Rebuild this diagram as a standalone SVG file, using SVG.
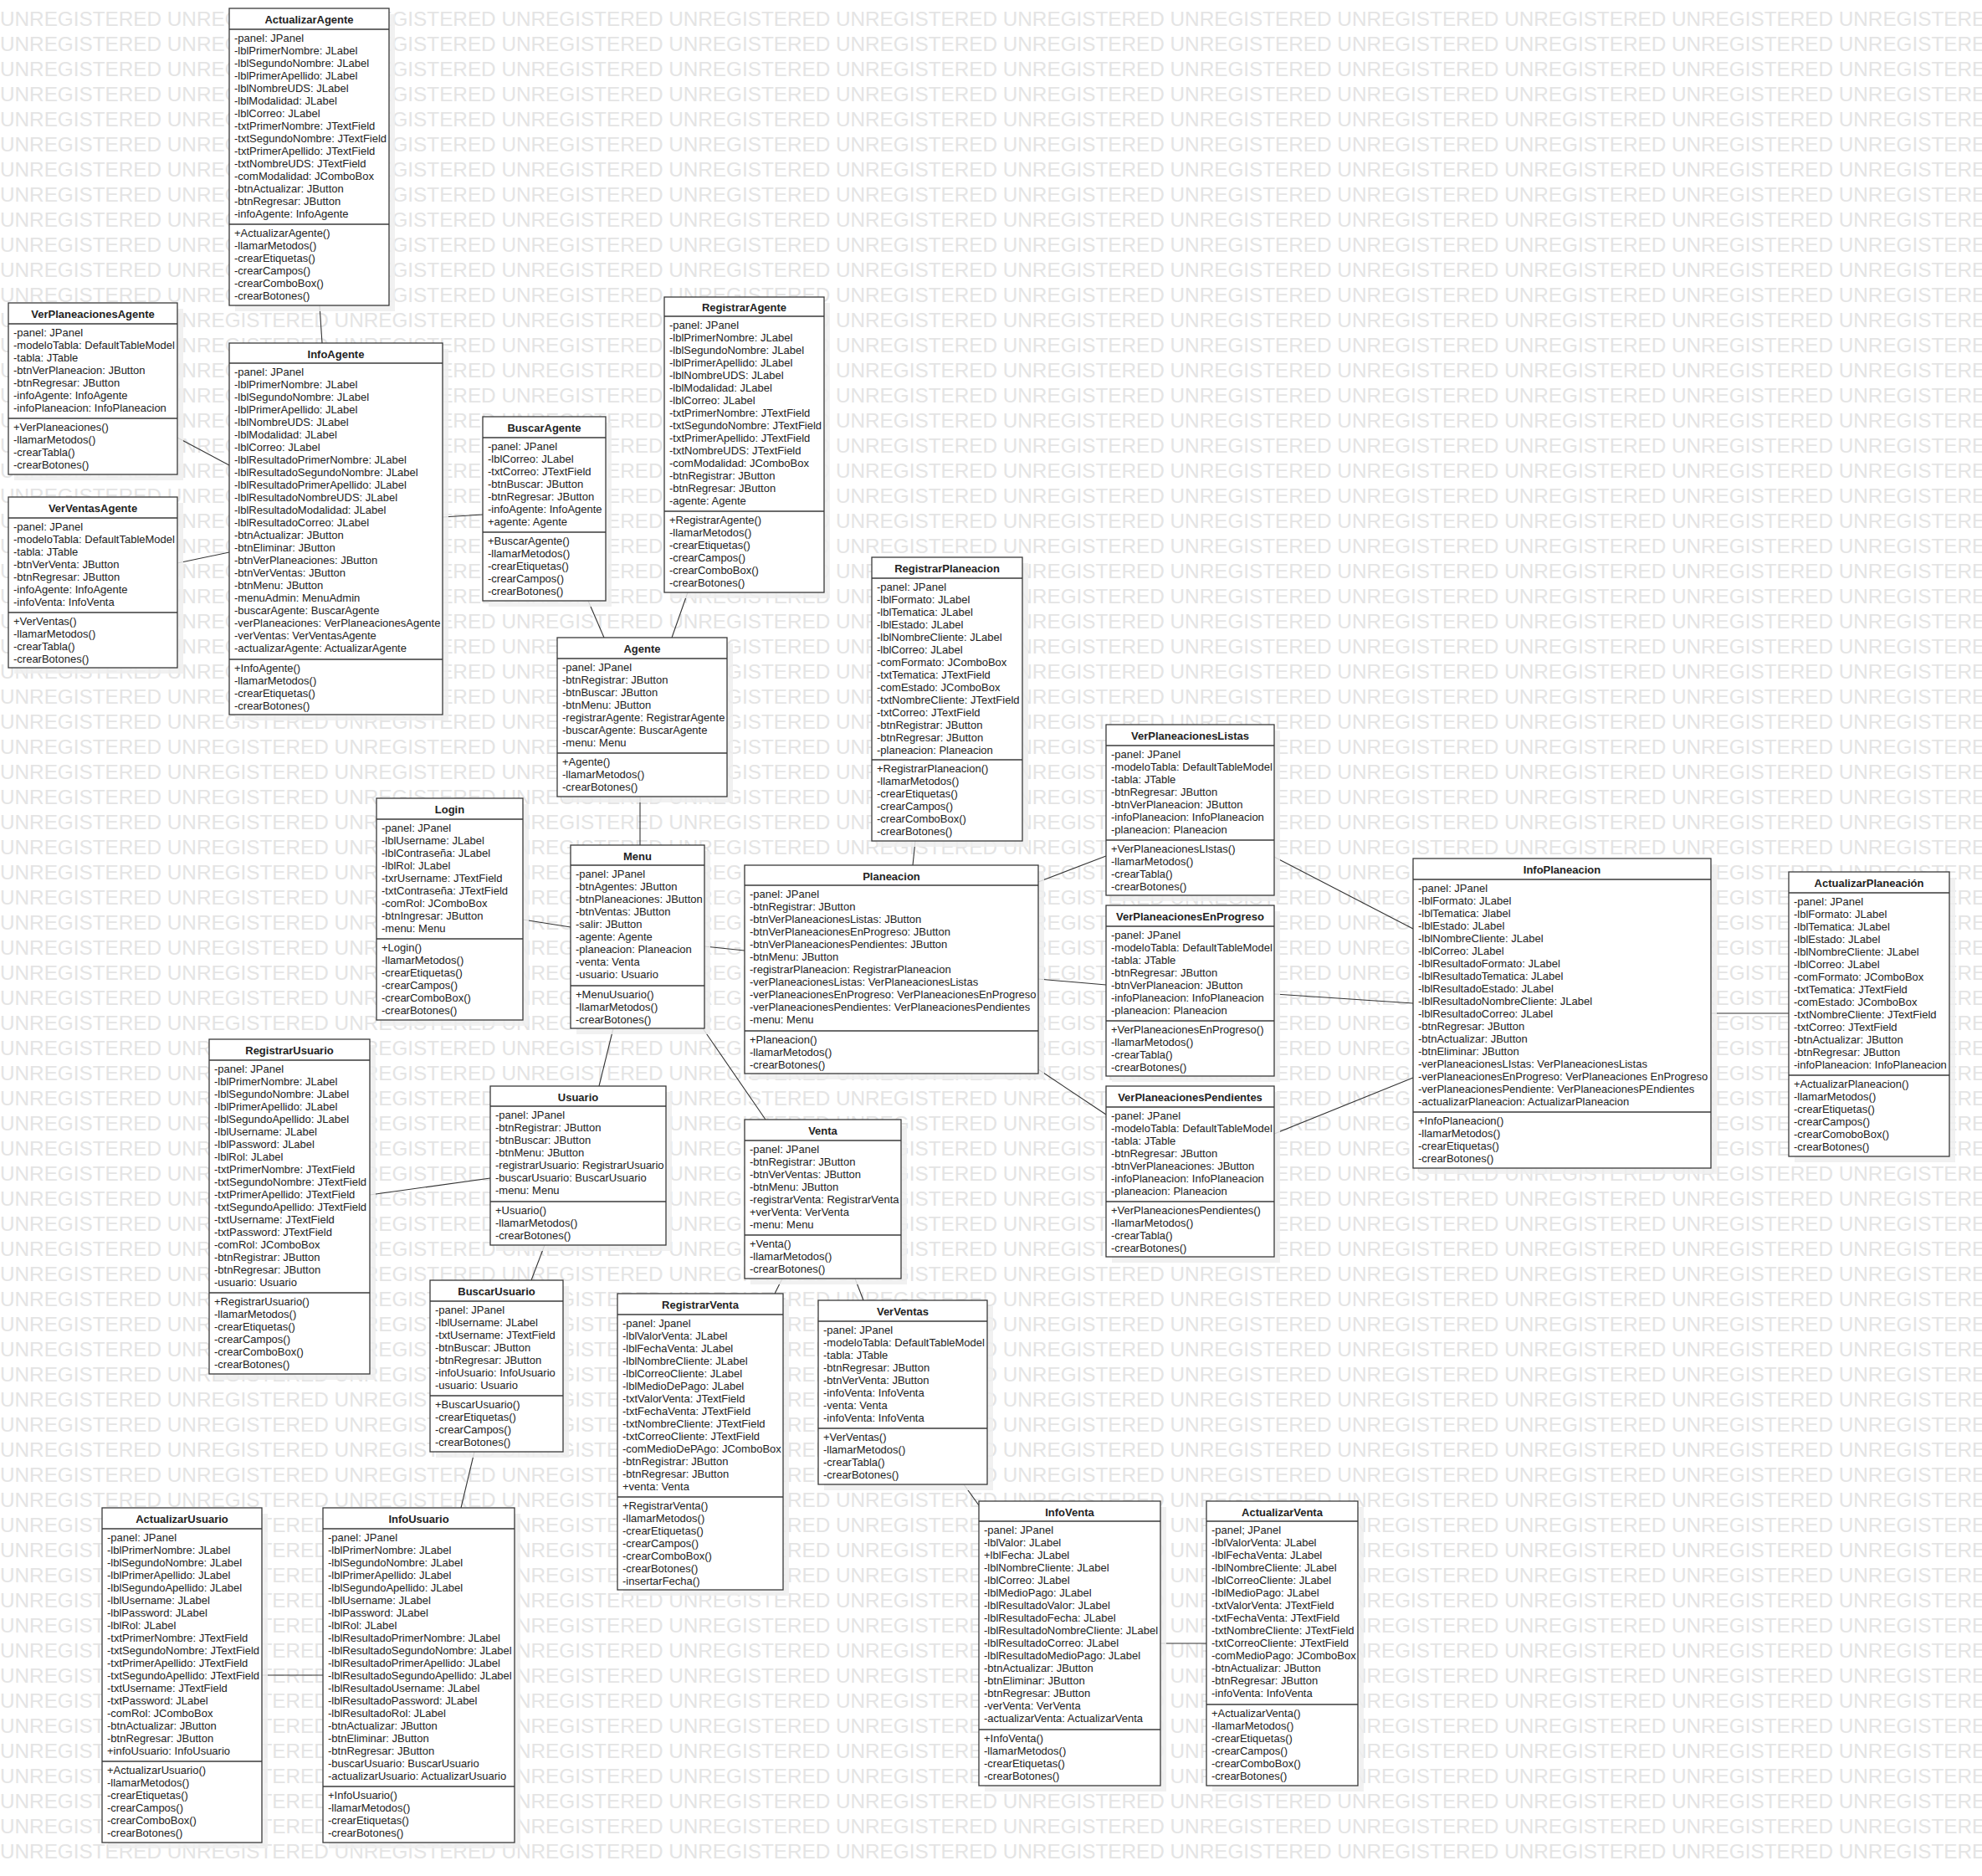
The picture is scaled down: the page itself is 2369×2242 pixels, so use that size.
<svg xmlns="http://www.w3.org/2000/svg" xmlns:xlink="http://www.w3.org/1999/xlink" width="2369" height="2242" viewBox="0 0 2369 2242">
<style>
.bg{fill:#ffffff}
.wm{font-family:"Liberation Sans",Arial,sans-serif;font-size:24.3px;fill:#e4e4e4}
.sh{fill:#efefef;opacity:0.85}
.b{fill:#ffffff;stroke:#3a3a3a;stroke-width:1.3}
.sep{stroke:#3a3a3a;stroke-width:1.3}
.t{font-family:"Liberation Sans",Arial,sans-serif;font-size:13px;font-weight:bold;fill:#222;text-anchor:middle}
.a{font-family:"Liberation Sans",Arial,sans-serif;font-size:13px;fill:#222}
.c line{stroke:#333;stroke-width:1.1}
</style>
<defs>
<text id="wmrow" class="wm" x="0" y="0">UNREGISTERED UNREGISTERED UNREGISTERED UNREGISTERED UNREGISTERED UNREGISTERED UNREGISTERED UNREGISTERED UNREGISTERED UNREGISTERED UNREGISTERED UNREGISTERED</text>
</defs>
<rect class="bg" x="0" y="0" width="2369" height="2242"/>
<!-- watermark rows -->
<g id="watermark">
<use xlink:href="#wmrow" y="30.5"/><use xlink:href="#wmrow" y="60.5"/><use xlink:href="#wmrow" y="90.5"/><use xlink:href="#wmrow" y="120.5"/><use xlink:href="#wmrow" y="150.5"/><use xlink:href="#wmrow" y="180.5"/><use xlink:href="#wmrow" y="210.5"/><use xlink:href="#wmrow" y="240.5"/><use xlink:href="#wmrow" y="270.5"/><use xlink:href="#wmrow" y="300.5"/>
<use xlink:href="#wmrow" y="330.5"/><use xlink:href="#wmrow" y="360.5"/><use xlink:href="#wmrow" y="390.5"/><use xlink:href="#wmrow" y="420.5"/><use xlink:href="#wmrow" y="450.5"/><use xlink:href="#wmrow" y="480.5"/><use xlink:href="#wmrow" y="510.5"/><use xlink:href="#wmrow" y="540.5"/><use xlink:href="#wmrow" y="570.5"/><use xlink:href="#wmrow" y="600.5"/>
<use xlink:href="#wmrow" y="630.5"/><use xlink:href="#wmrow" y="660.5"/><use xlink:href="#wmrow" y="690.5"/><use xlink:href="#wmrow" y="720.5"/><use xlink:href="#wmrow" y="750.5"/><use xlink:href="#wmrow" y="780.5"/><use xlink:href="#wmrow" y="810.5"/><use xlink:href="#wmrow" y="840.5"/><use xlink:href="#wmrow" y="870.5"/><use xlink:href="#wmrow" y="900.5"/>
<use xlink:href="#wmrow" y="930.5"/><use xlink:href="#wmrow" y="960.5"/><use xlink:href="#wmrow" y="990.5"/><use xlink:href="#wmrow" y="1020.5"/><use xlink:href="#wmrow" y="1050.5"/><use xlink:href="#wmrow" y="1080.5"/><use xlink:href="#wmrow" y="1110.5"/><use xlink:href="#wmrow" y="1140.5"/><use xlink:href="#wmrow" y="1170.5"/><use xlink:href="#wmrow" y="1200.5"/>
<use xlink:href="#wmrow" y="1230.5"/><use xlink:href="#wmrow" y="1260.5"/><use xlink:href="#wmrow" y="1290.5"/><use xlink:href="#wmrow" y="1320.5"/><use xlink:href="#wmrow" y="1350.5"/><use xlink:href="#wmrow" y="1380.5"/><use xlink:href="#wmrow" y="1410.5"/><use xlink:href="#wmrow" y="1440.5"/><use xlink:href="#wmrow" y="1470.5"/><use xlink:href="#wmrow" y="1500.5"/>
<use xlink:href="#wmrow" y="1530.5"/><use xlink:href="#wmrow" y="1560.5"/><use xlink:href="#wmrow" y="1590.5"/><use xlink:href="#wmrow" y="1620.5"/><use xlink:href="#wmrow" y="1650.5"/><use xlink:href="#wmrow" y="1680.5"/><use xlink:href="#wmrow" y="1710.5"/><use xlink:href="#wmrow" y="1740.5"/><use xlink:href="#wmrow" y="1770.5"/><use xlink:href="#wmrow" y="1800.5"/>
<use xlink:href="#wmrow" y="1830.5"/><use xlink:href="#wmrow" y="1860.5"/><use xlink:href="#wmrow" y="1890.5"/><use xlink:href="#wmrow" y="1920.5"/><use xlink:href="#wmrow" y="1950.5"/><use xlink:href="#wmrow" y="1980.5"/><use xlink:href="#wmrow" y="2010.5"/><use xlink:href="#wmrow" y="2040.5"/><use xlink:href="#wmrow" y="2070.5"/><use xlink:href="#wmrow" y="2100.5"/>
<use xlink:href="#wmrow" y="2130.5"/><use xlink:href="#wmrow" y="2160.5"/><use xlink:href="#wmrow" y="2190.5"/><use xlink:href="#wmrow" y="2220.5"/>
</g>

<!-- associations -->
<g id="connectors" class="c">
<line x1="382" y1="365" x2="385" y2="410"/>
<line x1="212" y1="523" x2="274" y2="556"/>
<line x1="212" y1="673" x2="274" y2="660"/>
<line x1="529" y1="618" x2="577" y2="615"/>
<line x1="703" y1="718" x2="722" y2="762"/>
<line x1="822" y1="708" x2="803" y2="762"/>
<line x1="765" y1="952" x2="765" y2="1010"/>
<line x1="625" y1="1099" x2="682" y2="1108"/>
<line x1="842" y1="1131" x2="890" y2="1136"/>
<line x1="1094" y1="1005" x2="1091" y2="1034"/>
<line x1="1241" y1="1054" x2="1322" y2="1023"/>
<line x1="1241" y1="1170" x2="1322" y2="1177"/>
<line x1="1241" y1="1278" x2="1322" y2="1332"/>
<line x1="1523" y1="1024" x2="1689" y2="1110"/>
<line x1="1523" y1="1188" x2="1689" y2="1199"/>
<line x1="1523" y1="1355" x2="1689" y2="1288"/>
<line x1="2045" y1="1211" x2="2138" y2="1211"/>
<line x1="733" y1="1229" x2="716" y2="1298"/>
<line x1="840" y1="1229" x2="915" y2="1338"/>
<line x1="442" y1="1428" x2="586" y2="1408"/>
<line x1="651" y1="1488" x2="635" y2="1530"/>
<line x1="567" y1="1735" x2="551" y2="1802"/>
<line x1="313" y1="2002" x2="386" y2="2002"/>
<line x1="935" y1="1528" x2="926" y2="1546"/>
<line x1="1022" y1="1528" x2="1032" y2="1554"/>
<line x1="1152" y1="1774" x2="1170" y2="1799"/>
<line x1="1387" y1="1964" x2="1442" y2="1964"/>
</g>

<g id="ActualizarAgente">
<rect class="sh" x="281" y="17" width="191" height="355"/>
<rect class="b" x="274" y="10" width="191" height="355"/>
<line class="sep" x1="274" y1="35" x2="465" y2="35"/><line class="sep" x1="274" y1="268" x2="465" y2="268"/>
<text class="t" x="369.5" y="27.5">ActualizarAgente</text>
<text class="a" x="280" y="49.5"><tspan x="280">-panel: JPanel</tspan><tspan x="280" dy="15">-lblPrimerNombre: JLabel</tspan><tspan x="280" dy="15">-lblSegundoNombre: JLabel</tspan><tspan x="280" dy="15">-lblPrimerApellido: JLabel</tspan><tspan x="280" dy="15">-lblNombreUDS: JLabel</tspan><tspan x="280" dy="15">-lblModalidad: JLabel</tspan><tspan x="280" dy="15">-lblCorreo: JLabel</tspan><tspan x="280" dy="15">-txtPrimerNombre: JTextField</tspan><tspan x="280" dy="15">-txtSegundoNombre: JTextField</tspan><tspan x="280" dy="15">-txtPrimerApellido: JTextField</tspan><tspan x="280" dy="15">-txtNombreUDS: JTextField</tspan><tspan x="280" dy="15">-comModalidad: JComboBox</tspan><tspan x="280" dy="15">-btnActualizar: JButton</tspan><tspan x="280" dy="15">-btnRegresar: JButton</tspan><tspan x="280" dy="15">-infoAgente: InfoAgente</tspan></text>
<text class="a" x="280" y="282.5"><tspan x="280">+ActualizarAgente()</tspan><tspan x="280" dy="15">-llamarMetodos()</tspan><tspan x="280" dy="15">-crearEtiquetas()</tspan><tspan x="280" dy="15">-crearCampos()</tspan><tspan x="280" dy="15">-crearComboBox()</tspan><tspan x="280" dy="15">-crearBotones()</tspan></text>
</g>

<g id="VerPlaneacionesAgente">
<rect class="sh" x="17" y="369" width="202" height="205"/>
<rect class="b" x="10" y="362" width="202" height="205"/>
<line class="sep" x1="10" y1="387" x2="212" y2="387"/><line class="sep" x1="10" y1="500" x2="212" y2="500"/>
<text class="t" x="111" y="379.5">VerPlaneacionesAgente</text>
<text class="a" x="16" y="401.5"><tspan x="16">-panel: JPanel</tspan><tspan x="16" dy="15">-modeloTabla: DefaultTableModel</tspan><tspan x="16" dy="15">-tabla: JTable</tspan><tspan x="16" dy="15">-btnVerPlaneacion: JButton</tspan><tspan x="16" dy="15">-btnRegresar: JButton</tspan><tspan x="16" dy="15">-infoAgente: InfoAgente</tspan><tspan x="16" dy="15">-infoPlaneacion: InfoPlaneacion</tspan></text>
<text class="a" x="16" y="514.5"><tspan x="16">+VerPlaneaciones()</tspan><tspan x="16" dy="15">-llamarMetodos()</tspan><tspan x="16" dy="15">-crearTabla()</tspan><tspan x="16" dy="15">-crearBotones()</tspan></text>
</g>

<g id="InfoAgente">
<rect class="sh" x="281" y="417" width="255" height="444"/>
<rect class="b" x="274" y="410" width="255" height="444"/>
<line class="sep" x1="274" y1="434" x2="529" y2="434"/><line class="sep" x1="274" y1="788" x2="529" y2="788"/>
<text class="t" x="401.5" y="427.5">InfoAgente</text>
<text class="a" x="280" y="448.5"><tspan x="280">-panel: JPanel</tspan><tspan x="280" dy="15">-lblPrimerNombre: JLabel</tspan><tspan x="280" dy="15">-lblSegundoNombre: JLabel</tspan><tspan x="280" dy="15">-lblPrimerApellido: JLabel</tspan><tspan x="280" dy="15">-lblNombreUDS: JLabel</tspan><tspan x="280" dy="15">-lblModalidad: JLabel</tspan><tspan x="280" dy="15">-lblCorreo: JLabel</tspan><tspan x="280" dy="15">-lblResultadoPrimerNombre: JLabel</tspan><tspan x="280" dy="15">-lblResultadoSegundoNombre: JLabel</tspan><tspan x="280" dy="15">-lblResultadoPrimerApellido: JLabel</tspan><tspan x="280" dy="15">-lblResultadoNombreUDS: JLabel</tspan><tspan x="280" dy="15">-lblResultadoModalidad: JLabel</tspan><tspan x="280" dy="15">-lblResultadoCorreo: JLabel</tspan><tspan x="280" dy="15">-btnActualizar: JButton</tspan><tspan x="280" dy="15">-btnEliminar: JButton</tspan><tspan x="280" dy="15">-btnVerPlaneaciones: JButton</tspan><tspan x="280" dy="15">-btnVerVentas: JButton</tspan><tspan x="280" dy="15">-btnMenu: JButton</tspan><tspan x="280" dy="15">-menuAdmin: MenuAdmin</tspan><tspan x="280" dy="15">-buscarAgente: BuscarAgente</tspan><tspan x="280" dy="15">-verPlaneaciones: VerPlaneacionesAgente</tspan><tspan x="280" dy="15">-verVentas: VerVentasAgente</tspan><tspan x="280" dy="15">-actualizarAgente: ActualizarAgente</tspan></text>
<text class="a" x="280" y="802.5"><tspan x="280">+InfoAgente()</tspan><tspan x="280" dy="15">-llamarMetodos()</tspan><tspan x="280" dy="15">-crearEtiquetas()</tspan><tspan x="280" dy="15">-crearBotones()</tspan></text>
</g>

<g id="VerVentasAgente">
<rect class="sh" x="17" y="601" width="202" height="204"/>
<rect class="b" x="10" y="594" width="202" height="204"/>
<line class="sep" x1="10" y1="619" x2="212" y2="619"/><line class="sep" x1="10" y1="732" x2="212" y2="732"/>
<text class="t" x="111" y="611.5">VerVentasAgente</text>
<text class="a" x="16" y="633.5"><tspan x="16">-panel: JPanel</tspan><tspan x="16" dy="15">-modeloTabla: DefaultTableModel</tspan><tspan x="16" dy="15">-tabla: JTable</tspan><tspan x="16" dy="15">-btnVerVenta: JButton</tspan><tspan x="16" dy="15">-btnRegresar: JButton</tspan><tspan x="16" dy="15">-infoAgente: InfoAgente</tspan><tspan x="16" dy="15">-infoVenta: InfoVenta</tspan></text>
<text class="a" x="16" y="746.5"><tspan x="16">+VerVentas()</tspan><tspan x="16" dy="15">-llamarMetodos()</tspan><tspan x="16" dy="15">-crearTabla()</tspan><tspan x="16" dy="15">-crearBotones()</tspan></text>
</g>

<g id="BuscarAgente">
<rect class="sh" x="584" y="505" width="147" height="220"/>
<rect class="b" x="577" y="498" width="147" height="220"/>
<line class="sep" x1="577" y1="523" x2="724" y2="523"/><line class="sep" x1="577" y1="636" x2="724" y2="636"/>
<text class="t" x="650.5" y="515.5">BuscarAgente</text>
<text class="a" x="583" y="537.5"><tspan x="583">-panel: JPanel</tspan><tspan x="583" dy="15">-lblCorreo: JLabel</tspan><tspan x="583" dy="15">-txtCorreo: JTextField</tspan><tspan x="583" dy="15">-btnBuscar: JButton</tspan><tspan x="583" dy="15">-btnRegresar: JButton</tspan><tspan x="583" dy="15">-infoAgente: InfoAgente</tspan><tspan x="583" dy="15">+agente: Agente</tspan></text>
<text class="a" x="583" y="650.5"><tspan x="583">+BuscarAgente()</tspan><tspan x="583" dy="15">-llamarMetodos()</tspan><tspan x="583" dy="15">-crearEtiquetas()</tspan><tspan x="583" dy="15">-crearCampos()</tspan><tspan x="583" dy="15">-crearBotones()</tspan></text>
</g>

<g id="RegistrarAgente">
<rect class="sh" x="801" y="362" width="191" height="353"/>
<rect class="b" x="794" y="355" width="191" height="353"/>
<line class="sep" x1="794" y1="378" x2="985" y2="378"/><line class="sep" x1="794" y1="611" x2="985" y2="611"/>
<text class="t" x="889.5" y="371.5">RegistrarAgente</text>
<text class="a" x="800" y="392.5"><tspan x="800">-panel: JPanel</tspan><tspan x="800" dy="15">-lblPrimerNombre: JLabel</tspan><tspan x="800" dy="15">-lblSegundoNombre: JLabel</tspan><tspan x="800" dy="15">-lblPrimerApellido: JLabel</tspan><tspan x="800" dy="15">-lblNombreUDS: JLabel</tspan><tspan x="800" dy="15">-lblModalidad: JLabel</tspan><tspan x="800" dy="15">-lblCorreo: JLabel</tspan><tspan x="800" dy="15">-txtPrimerNombre: JTextField</tspan><tspan x="800" dy="15">-txtSegundoNombre: JTextField</tspan><tspan x="800" dy="15">-txtPrimerApellido: JTextField</tspan><tspan x="800" dy="15">-txtNombreUDS: JTextField</tspan><tspan x="800" dy="15">-comModalidad: JComboBox</tspan><tspan x="800" dy="15">-btnRegistrar: JButton</tspan><tspan x="800" dy="15">-btnRegresar: JButton</tspan><tspan x="800" dy="15">-agente: Agente</tspan></text>
<text class="a" x="800" y="625.5"><tspan x="800">+RegistrarAgente()</tspan><tspan x="800" dy="15">-llamarMetodos()</tspan><tspan x="800" dy="15">-crearEtiquetas()</tspan><tspan x="800" dy="15">-crearCampos()</tspan><tspan x="800" dy="15">-crearComboBox()</tspan><tspan x="800" dy="15">-crearBotones()</tspan></text>
</g>

<g id="Agente">
<rect class="sh" x="673" y="769" width="203" height="190"/>
<rect class="b" x="666" y="762" width="203" height="190"/>
<line class="sep" x1="666" y1="787" x2="869" y2="787"/><line class="sep" x1="666" y1="900" x2="869" y2="900"/>
<text class="t" x="767.5" y="779.5">Agente</text>
<text class="a" x="672" y="801.5"><tspan x="672">-panel: JPanel</tspan><tspan x="672" dy="15">-btnRegistrar: JButton</tspan><tspan x="672" dy="15">-btnBuscar: JButton</tspan><tspan x="672" dy="15">-btnMenu: JButton</tspan><tspan x="672" dy="15">-registrarAgente: RegistrarAgente</tspan><tspan x="672" dy="15">-buscarAgente: BuscarAgente</tspan><tspan x="672" dy="15">-menu: Menu</tspan></text>
<text class="a" x="672" y="914.5"><tspan x="672">+Agente()</tspan><tspan x="672" dy="15">-llamarMetodos()</tspan><tspan x="672" dy="15">-crearBotones()</tspan></text>
</g>

<g id="RegistrarPlaneacion">
<rect class="sh" x="1049" y="673" width="180" height="339"/>
<rect class="b" x="1042" y="666" width="180" height="339"/>
<line class="sep" x1="1042" y1="691" x2="1222" y2="691"/><line class="sep" x1="1042" y1="908" x2="1222" y2="908"/>
<text class="t" x="1132" y="683.5">RegistrarPlaneacion</text>
<text class="a" x="1048" y="705.5"><tspan x="1048">-panel: JPanel</tspan><tspan x="1048" dy="15">-lblFormato: JLabel</tspan><tspan x="1048" dy="15">-lblTematica: JLabel</tspan><tspan x="1048" dy="15">-lblEstado: JLabel</tspan><tspan x="1048" dy="15">-lblNombreCliente: JLabel</tspan><tspan x="1048" dy="15">-lblCorreo: JLabel</tspan><tspan x="1048" dy="15">-comFormato: JComboBox</tspan><tspan x="1048" dy="15">-txtTematica: JTextField</tspan><tspan x="1048" dy="15">-comEstado: JComboBox</tspan><tspan x="1048" dy="15">-txtNombreCliente: JTextField</tspan><tspan x="1048" dy="15">-txtCorreo: JTextField</tspan><tspan x="1048" dy="15">-btnRegistrar: JButton</tspan><tspan x="1048" dy="15">-btnRegresar: JButton</tspan><tspan x="1048" dy="15">-planeacion: Planeacion</tspan></text>
<text class="a" x="1048" y="922.5"><tspan x="1048">+RegistrarPlaneacion()</tspan><tspan x="1048" dy="15">-llamarMetodos()</tspan><tspan x="1048" dy="15">-crearEtiquetas()</tspan><tspan x="1048" dy="15">-crearCampos()</tspan><tspan x="1048" dy="15">-crearComboBox()</tspan><tspan x="1048" dy="15">-crearBotones()</tspan></text>
</g>

<g id="Login">
<rect class="sh" x="457" y="961" width="175" height="265"/>
<rect class="b" x="450" y="954" width="175" height="265"/>
<line class="sep" x1="450" y1="979" x2="625" y2="979"/><line class="sep" x1="450" y1="1122" x2="625" y2="1122"/>
<text class="t" x="537.5" y="971.5">Login</text>
<text class="a" x="456" y="993.5"><tspan x="456">-panel: JPanel</tspan><tspan x="456" dy="15">-lblUsername: JLabel</tspan><tspan x="456" dy="15">-lblContraseña: JLabel</tspan><tspan x="456" dy="15">-lblRol: JLabel</tspan><tspan x="456" dy="15">-txrUsername: JTextField</tspan><tspan x="456" dy="15">-txtContraseña: JTextField</tspan><tspan x="456" dy="15">-comRol: JComboBox</tspan><tspan x="456" dy="15">-btnIngresar: JButton</tspan><tspan x="456" dy="15">-menu: Menu</tspan></text>
<text class="a" x="456" y="1136.5"><tspan x="456">+Login()</tspan><tspan x="456" dy="15">-llamarMetodos()</tspan><tspan x="456" dy="15">-crearEtiquetas()</tspan><tspan x="456" dy="15">-crearCampos()</tspan><tspan x="456" dy="15">-crearComboBox()</tspan><tspan x="456" dy="15">-crearBotones()</tspan></text>
</g>

<g id="Menu">
<rect class="sh" x="689" y="1017" width="160" height="219"/>
<rect class="b" x="682" y="1010" width="160" height="219"/>
<line class="sep" x1="682" y1="1034" x2="842" y2="1034"/><line class="sep" x1="682" y1="1178" x2="842" y2="1178"/>
<text class="t" x="762" y="1027.5">Menu</text>
<text class="a" x="688" y="1048.5"><tspan x="688">-panel: JPanel</tspan><tspan x="688" dy="15">-btnAgentes: JButton</tspan><tspan x="688" dy="15">-btnPlaneaciones: JButton</tspan><tspan x="688" dy="15">-btnVentas: JButton</tspan><tspan x="688" dy="15">-salir: JButton</tspan><tspan x="688" dy="15">-agente: Agente</tspan><tspan x="688" dy="15">-planeacion: Planeacion</tspan><tspan x="688" dy="15">-venta: Venta</tspan><tspan x="688" dy="15">-usuario: Usuario</tspan></text>
<text class="a" x="688" y="1192.5"><tspan x="688">+MenuUsuario()</tspan><tspan x="688" dy="15">-llamarMetodos()</tspan><tspan x="688" dy="15">-crearBotones()</tspan></text>
</g>

<g id="Planeacion">
<rect class="sh" x="897" y="1041" width="351" height="249"/>
<rect class="b" x="890" y="1034" width="351" height="249"/>
<line class="sep" x1="890" y1="1058" x2="1241" y2="1058"/><line class="sep" x1="890" y1="1232" x2="1241" y2="1232"/>
<text class="t" x="1065.5" y="1051.5">Planeacion</text>
<text class="a" x="896" y="1072.5"><tspan x="896">-panel: JPanel</tspan><tspan x="896" dy="15">-btnRegistrar: JButton</tspan><tspan x="896" dy="15">-btnVerPlaneacionesListas: JButton</tspan><tspan x="896" dy="15">-btnVerPlaneacionesEnProgreso: JButton</tspan><tspan x="896" dy="15">-btnVerPlaneacionesPendientes: JButton</tspan><tspan x="896" dy="15">-btnMenu: JButton</tspan><tspan x="896" dy="15">-registrarPlaneacion: RegistrarPlaneacion</tspan><tspan x="896" dy="15">-verPlaneacionesListas: VerPlaneacionesListas</tspan><tspan x="896" dy="15">-verPlaneacionesEnProgreso: VerPlaneacionesEnProgreso</tspan><tspan x="896" dy="15">-verPlaneacionesPendientes: VerPlaneacionesPendientes</tspan><tspan x="896" dy="15">-menu: Menu</tspan></text>
<text class="a" x="896" y="1246.5"><tspan x="896">+Planeacion()</tspan><tspan x="896" dy="15">-llamarMetodos()</tspan><tspan x="896" dy="15">-crearBotones()</tspan></text>
</g>

<g id="VerPlaneacionesListas">
<rect class="sh" x="1329" y="873" width="201" height="204"/>
<rect class="b" x="1322" y="866" width="201" height="204"/>
<line class="sep" x1="1322" y1="891" x2="1523" y2="891"/><line class="sep" x1="1322" y1="1004" x2="1523" y2="1004"/>
<text class="t" x="1422.5" y="883.5">VerPlaneacionesListas</text>
<text class="a" x="1328" y="905.5"><tspan x="1328">-panel: JPanel</tspan><tspan x="1328" dy="15">-modeloTabla: DefaultTableModel</tspan><tspan x="1328" dy="15">-tabla: JTable</tspan><tspan x="1328" dy="15">-btnRegresar: JButton</tspan><tspan x="1328" dy="15">-btnVerPlaneacion: JButton</tspan><tspan x="1328" dy="15">-infoPlaneacion: InfoPlaneacion</tspan><tspan x="1328" dy="15">-planeacion: Planeacion</tspan></text>
<text class="a" x="1328" y="1018.5"><tspan x="1328">+VerPlaneacionesLIstas()</tspan><tspan x="1328" dy="15">-llamarMetodos()</tspan><tspan x="1328" dy="15">-crearTabla()</tspan><tspan x="1328" dy="15">-crearBotones()</tspan></text>
</g>

<g id="VerPlaneacionesEnProgreso">
<rect class="sh" x="1329" y="1089" width="201" height="204"/>
<rect class="b" x="1322" y="1082" width="201" height="204"/>
<line class="sep" x1="1322" y1="1107" x2="1523" y2="1107"/><line class="sep" x1="1322" y1="1220" x2="1523" y2="1220"/>
<text class="t" x="1422.5" y="1099.5">VerPlaneacionesEnProgreso</text>
<text class="a" x="1328" y="1121.5"><tspan x="1328">-panel: JPanel</tspan><tspan x="1328" dy="15">-modeloTabla: DefaultTableModel</tspan><tspan x="1328" dy="15">-tabla: JTable</tspan><tspan x="1328" dy="15">-btnRegresar: JButton</tspan><tspan x="1328" dy="15">-btnVerPlaneacion: JButton</tspan><tspan x="1328" dy="15">-infoPlaneacion: InfoPlaneacion</tspan><tspan x="1328" dy="15">-planeacion: Planeacion</tspan></text>
<text class="a" x="1328" y="1234.5"><tspan x="1328">+VerPlaneacionesEnProgreso()</tspan><tspan x="1328" dy="15">-llamarMetodos()</tspan><tspan x="1328" dy="15">-crearTabla()</tspan><tspan x="1328" dy="15">-crearBotones()</tspan></text>
</g>

<g id="VerPlaneacionesPendientes">
<rect class="sh" x="1329" y="1305" width="201" height="204"/>
<rect class="b" x="1322" y="1298" width="201" height="204"/>
<line class="sep" x1="1322" y1="1323" x2="1523" y2="1323"/><line class="sep" x1="1322" y1="1436" x2="1523" y2="1436"/>
<text class="t" x="1422.5" y="1315.5">VerPlaneacionesPendientes</text>
<text class="a" x="1328" y="1337.5"><tspan x="1328">-panel: JPanel</tspan><tspan x="1328" dy="15">-modeloTabla: DefaultTableModel</tspan><tspan x="1328" dy="15">-tabla: JTable</tspan><tspan x="1328" dy="15">-btnRegresar: JButton</tspan><tspan x="1328" dy="15">-btnVerPlaneaciones: JButton</tspan><tspan x="1328" dy="15">-infoPlaneacion: InfoPlaneacion</tspan><tspan x="1328" dy="15">-planeacion: Planeacion</tspan></text>
<text class="a" x="1328" y="1450.5"><tspan x="1328">+VerPlaneacionesPendientes()</tspan><tspan x="1328" dy="15">-llamarMetodos()</tspan><tspan x="1328" dy="15">-crearTabla()</tspan><tspan x="1328" dy="15">-crearBotones()</tspan></text>
</g>

<g id="InfoPlaneacion">
<rect class="sh" x="1696" y="1033" width="356" height="370"/>
<rect class="b" x="1689" y="1026" width="356" height="370"/>
<line class="sep" x1="1689" y1="1051" x2="2045" y2="1051"/><line class="sep" x1="1689" y1="1329" x2="2045" y2="1329"/>
<text class="t" x="1867" y="1043.5">InfoPlaneacion</text>
<text class="a" x="1695" y="1065.5"><tspan x="1695">-panel: JPanel</tspan><tspan x="1695" dy="15">-lblFormato: JLabel</tspan><tspan x="1695" dy="15">-lblTematica: Jlabel</tspan><tspan x="1695" dy="15">-lblEstado: JLabel</tspan><tspan x="1695" dy="15">-lblNombreCliente: JLabel</tspan><tspan x="1695" dy="15">-lblCorreo: JLabel</tspan><tspan x="1695" dy="15">-lblResultadoFormato: JLabel</tspan><tspan x="1695" dy="15">-lblResultadoTematica: JLabel</tspan><tspan x="1695" dy="15">-lblResultadoEstado: JLabel</tspan><tspan x="1695" dy="15">-lblResultadoNombreCliente: JLabel</tspan><tspan x="1695" dy="15">-lblResultadoCorreo: JLabel</tspan><tspan x="1695" dy="15">-btnRegresar: JButton</tspan><tspan x="1695" dy="15">-btnActualizar: JButton</tspan><tspan x="1695" dy="15">-btnEliminar: JButton</tspan><tspan x="1695" dy="15">-verPlaneacionesLIstas: VerPlaneacionesListas</tspan><tspan x="1695" dy="15">-verPlaneacionesEnProgreso: VerPlaneaciones EnProgreso</tspan><tspan x="1695" dy="15">-verPlaneacionesPendiente: VerPlaneacionesPEndientes</tspan><tspan x="1695" dy="15">-actualizarPlaneacion: ActualizarPlaneacion</tspan></text>
<text class="a" x="1695" y="1343.5"><tspan x="1695">+InfoPlaneacion()</tspan><tspan x="1695" dy="15">-llamarMetodos()</tspan><tspan x="1695" dy="15">-crearEtiquetas()</tspan><tspan x="1695" dy="15">-crearBotones()</tspan></text>
</g>

<g id="ActualizarPlaneacion">
<rect class="sh" x="2145" y="1049" width="192" height="340"/>
<rect class="b" x="2138" y="1042" width="192" height="340"/>
<line class="sep" x1="2138" y1="1067" x2="2330" y2="1067"/><line class="sep" x1="2138" y1="1285" x2="2330" y2="1285"/>
<text class="t" x="2234" y="1059.5">ActualizarPlaneación</text>
<text class="a" x="2144" y="1081.5"><tspan x="2144">-panel: JPanel</tspan><tspan x="2144" dy="15">-lblFormato: JLabel</tspan><tspan x="2144" dy="15">-lblTematica: JLabel</tspan><tspan x="2144" dy="15">-lblEstado: JLabel</tspan><tspan x="2144" dy="15">-lblNombreCliente: JLabel</tspan><tspan x="2144" dy="15">-lblCorreo: JLabel</tspan><tspan x="2144" dy="15">-comFormato: JComboBox</tspan><tspan x="2144" dy="15">-txtTematica: JTextField</tspan><tspan x="2144" dy="15">-comEstado: JComboBox</tspan><tspan x="2144" dy="15">-txtNombreCliente: JTextField</tspan><tspan x="2144" dy="15">-txtCorreo: JTextField</tspan><tspan x="2144" dy="15">-btnActualizar: JButton</tspan><tspan x="2144" dy="15">-btnRegresar: JButton</tspan><tspan x="2144" dy="15">-infoPlaneacion: InfoPlaneacion</tspan></text>
<text class="a" x="2144" y="1299.5"><tspan x="2144">+ActualizarPlaneacion()</tspan><tspan x="2144" dy="15">-llamarMetodos()</tspan><tspan x="2144" dy="15">-crearEtiquetas()</tspan><tspan x="2144" dy="15">-crearCampos()</tspan><tspan x="2144" dy="15">-crearComoboBox()</tspan><tspan x="2144" dy="15">-crearBotones()</tspan></text>
</g>

<g id="RegistrarUsuario">
<rect class="sh" x="257" y="1249" width="192" height="400"/>
<rect class="b" x="250" y="1242" width="192" height="400"/>
<line class="sep" x1="250" y1="1267" x2="442" y2="1267"/><line class="sep" x1="250" y1="1545" x2="442" y2="1545"/>
<text class="t" x="346" y="1259.5">RegistrarUsuario</text>
<text class="a" x="256" y="1281.5"><tspan x="256">-panel: JPanel</tspan><tspan x="256" dy="15">-lblPrimerNombre: JLabel</tspan><tspan x="256" dy="15">-lblSegundoNombre: JLabel</tspan><tspan x="256" dy="15">-lblPrimerApellido: JLabel</tspan><tspan x="256" dy="15">-lblSegundoApellido: JLabel</tspan><tspan x="256" dy="15">-lblUsername: JLabel</tspan><tspan x="256" dy="15">-lblPassword: JLabel</tspan><tspan x="256" dy="15">-lblRol: JLabel</tspan><tspan x="256" dy="15">-txtPrimerNombre: JTextField</tspan><tspan x="256" dy="15">-txtSegundoNombre: JTextField</tspan><tspan x="256" dy="15">-txtPrimerApellido: JTextField</tspan><tspan x="256" dy="15">-txtSegundoApellido: JTextField</tspan><tspan x="256" dy="15">-txtUsername: JTextField</tspan><tspan x="256" dy="15">-txtPassword: JTextField</tspan><tspan x="256" dy="15">-comRol: JComboBox</tspan><tspan x="256" dy="15">-btnRegistrar: JButton</tspan><tspan x="256" dy="15">-btnRegresar: JButton</tspan><tspan x="256" dy="15">-usuario: Usuario</tspan></text>
<text class="a" x="256" y="1559.5"><tspan x="256">+RegistrarUsuario()</tspan><tspan x="256" dy="15">-llamarMetodos()</tspan><tspan x="256" dy="15">-crearEtiquetas()</tspan><tspan x="256" dy="15">-crearCampos()</tspan><tspan x="256" dy="15">-crearComboBox()</tspan><tspan x="256" dy="15">-crearBotones()</tspan></text>
</g>

<g id="Usuario">
<rect class="sh" x="593" y="1305" width="210" height="190"/>
<rect class="b" x="586" y="1298" width="210" height="190"/>
<line class="sep" x1="586" y1="1322" x2="796" y2="1322"/><line class="sep" x1="586" y1="1436" x2="796" y2="1436"/>
<text class="t" x="691" y="1315.5">Usuario</text>
<text class="a" x="592" y="1336.5"><tspan x="592">-panel: JPanel</tspan><tspan x="592" dy="15">-btnRegistrar: JButton</tspan><tspan x="592" dy="15">-btnBuscar: JButton</tspan><tspan x="592" dy="15">-btnMenu: JButton</tspan><tspan x="592" dy="15">-registrarUsuario: RegistrarUsuario</tspan><tspan x="592" dy="15">-buscarUsuario: BuscarUsuario</tspan><tspan x="592" dy="15">-menu: Menu</tspan></text>
<text class="a" x="592" y="1450.5"><tspan x="592">+Usuario()</tspan><tspan x="592" dy="15">-llamarMetodos()</tspan><tspan x="592" dy="15">-crearBotones()</tspan></text>
</g>

<g id="BuscarUsuario">
<rect class="sh" x="521" y="1537" width="159" height="205"/>
<rect class="b" x="514" y="1530" width="159" height="205"/>
<line class="sep" x1="514" y1="1555" x2="673" y2="1555"/><line class="sep" x1="514" y1="1668" x2="673" y2="1668"/>
<text class="t" x="593.5" y="1547.5">BuscarUsuario</text>
<text class="a" x="520" y="1569.5"><tspan x="520">-panel: JPanel</tspan><tspan x="520" dy="15">-lblUsername: JLabel</tspan><tspan x="520" dy="15">-txtUsername: JTextField</tspan><tspan x="520" dy="15">-btnBuscar: JButton</tspan><tspan x="520" dy="15">-btnRegresar: JButton</tspan><tspan x="520" dy="15">-infoUsuario: InfoUsuario</tspan><tspan x="520" dy="15">-usuario: Usuario</tspan></text>
<text class="a" x="520" y="1682.5"><tspan x="520">+BuscarUsuario()</tspan><tspan x="520" dy="15">-crearEtiquetas()</tspan><tspan x="520" dy="15">-crearCampos()</tspan><tspan x="520" dy="15">-crearBotones()</tspan></text>
</g>

<g id="Venta">
<rect class="sh" x="897" y="1345" width="187" height="190"/>
<rect class="b" x="890" y="1338" width="187" height="190"/>
<line class="sep" x1="890" y1="1363" x2="1077" y2="1363"/><line class="sep" x1="890" y1="1476" x2="1077" y2="1476"/>
<text class="t" x="983.5" y="1355.5">Venta</text>
<text class="a" x="896" y="1377.5"><tspan x="896">-panel: JPanel</tspan><tspan x="896" dy="15">-btnRegistrar: JButton</tspan><tspan x="896" dy="15">-btnVerVentas: JButton</tspan><tspan x="896" dy="15">-btnMenu: JButton</tspan><tspan x="896" dy="15">-registrarVenta: RegistrarVenta</tspan><tspan x="896" dy="15">+verVenta: VerVenta</tspan><tspan x="896" dy="15">-menu: Menu</tspan></text>
<text class="a" x="896" y="1490.5"><tspan x="896">+Venta()</tspan><tspan x="896" dy="15">-llamarMetodos()</tspan><tspan x="896" dy="15">-crearBotones()</tspan></text>
</g>

<g id="RegistrarVenta">
<rect class="sh" x="745" y="1553" width="198" height="354"/>
<rect class="b" x="738" y="1546" width="198" height="354"/>
<line class="sep" x1="738" y1="1571" x2="936" y2="1571"/><line class="sep" x1="738" y1="1789" x2="936" y2="1789"/>
<text class="t" x="837" y="1563.5">RegistrarVenta</text>
<text class="a" x="744" y="1585.5"><tspan x="744">-panel: Jpanel</tspan><tspan x="744" dy="15">-lblValorVenta: JLabel</tspan><tspan x="744" dy="15">-lblFechaVenta: JLabel</tspan><tspan x="744" dy="15">-lblNombreCliente: JLabel</tspan><tspan x="744" dy="15">-lblCorreoCliente: JLabel</tspan><tspan x="744" dy="15">-lblMedioDePago: JLabel</tspan><tspan x="744" dy="15">-txtValorVenta: JTextField</tspan><tspan x="744" dy="15">-txtFechaVenta: JTextField</tspan><tspan x="744" dy="15">-txtNombreCliente: JTextField</tspan><tspan x="744" dy="15">-txtCorreoCliente: JTextField</tspan><tspan x="744" dy="15">-comMedioDePAgo: JComboBox</tspan><tspan x="744" dy="15">-btnRegistrar: JButton</tspan><tspan x="744" dy="15">-btnRegresar: JButton</tspan><tspan x="744" dy="15">+venta: Venta</tspan></text>
<text class="a" x="744" y="1803.5"><tspan x="744">+RegistrarVenta()</tspan><tspan x="744" dy="15">-llamarMetodos()</tspan><tspan x="744" dy="15">-crearEtiquetas()</tspan><tspan x="744" dy="15">-crearCampos()</tspan><tspan x="744" dy="15">-crearComboBox()</tspan><tspan x="744" dy="15">-crearBotones()</tspan><tspan x="744" dy="15">-insertarFecha()</tspan></text>
</g>

<g id="VerVentas">
<rect class="sh" x="985" y="1561" width="202" height="220"/>
<rect class="b" x="978" y="1554" width="202" height="220"/>
<line class="sep" x1="978" y1="1579" x2="1180" y2="1579"/><line class="sep" x1="978" y1="1707" x2="1180" y2="1707"/>
<text class="t" x="1079" y="1571.5">VerVentas</text>
<text class="a" x="984" y="1593.5"><tspan x="984">-panel: JPanel</tspan><tspan x="984" dy="15">-modeloTabla: DefaultTableModel</tspan><tspan x="984" dy="15">-tabla: JTable</tspan><tspan x="984" dy="15">-btnRegresar: JButton</tspan><tspan x="984" dy="15">-btnVerVenta: JButton</tspan><tspan x="984" dy="15">-infoVenta: InfoVenta</tspan><tspan x="984" dy="15">-venta: Venta</tspan><tspan x="984" dy="15">-infoVenta: InfoVenta</tspan></text>
<text class="a" x="984" y="1721.5"><tspan x="984">+VerVentas()</tspan><tspan x="984" dy="15">-llamarMetodos()</tspan><tspan x="984" dy="15">-crearTabla()</tspan><tspan x="984" dy="15">-crearBotones()</tspan></text>
</g>

<g id="ActualizarUsuario">
<rect class="sh" x="129" y="1809" width="191" height="400"/>
<rect class="b" x="122" y="1802" width="191" height="400"/>
<line class="sep" x1="122" y1="1827" x2="313" y2="1827"/><line class="sep" x1="122" y1="2105" x2="313" y2="2105"/>
<text class="t" x="217.5" y="1819.5">ActualizarUsuario</text>
<text class="a" x="128" y="1841.5"><tspan x="128">-panel: JPanel</tspan><tspan x="128" dy="15">-lblPrimerNombre: JLabel</tspan><tspan x="128" dy="15">-lblSegundoNombre: JLabel</tspan><tspan x="128" dy="15">-lblPrimerApellido: JLabel</tspan><tspan x="128" dy="15">-lblSegundoApellido: JLabel</tspan><tspan x="128" dy="15">-lblUsername: JLabel</tspan><tspan x="128" dy="15">-lblPassword: JLabel</tspan><tspan x="128" dy="15">-lblRol: JLabel</tspan><tspan x="128" dy="15">-txtPrimerNombre: JTextField</tspan><tspan x="128" dy="15">-txtSegundoNombre: JTextField</tspan><tspan x="128" dy="15">-txtPrimerApellido: JTextField</tspan><tspan x="128" dy="15">-txtSegundoApellido: JTextField</tspan><tspan x="128" dy="15">-txtUsername: JTextField</tspan><tspan x="128" dy="15">-txtPassword: JLabel</tspan><tspan x="128" dy="15">-comRol: JComboBox</tspan><tspan x="128" dy="15">-btnActualizar: JButton</tspan><tspan x="128" dy="15">-btnRegresar: JButton</tspan><tspan x="128" dy="15">+infoUsuario: InfoUsuario</tspan></text>
<text class="a" x="128" y="2119.5"><tspan x="128">+ActualizarUsuario()</tspan><tspan x="128" dy="15">-llamarMetodos()</tspan><tspan x="128" dy="15">-crearEtiquetas()</tspan><tspan x="128" dy="15">-crearCampos()</tspan><tspan x="128" dy="15">-crearComboBox()</tspan><tspan x="128" dy="15">-crearBotones()</tspan></text>
</g>

<g id="InfoUsuario">
<rect class="sh" x="393" y="1809" width="229" height="400"/>
<rect class="b" x="386" y="1802" width="229" height="400"/>
<line class="sep" x1="386" y1="1827" x2="615" y2="1827"/><line class="sep" x1="386" y1="2135" x2="615" y2="2135"/>
<text class="t" x="500.5" y="1819.5">InfoUsuario</text>
<text class="a" x="392" y="1841.5"><tspan x="392">-panel: JPanel</tspan><tspan x="392" dy="15">-lblPrimerNombre: JLabel</tspan><tspan x="392" dy="15">-lblSegundoNombre: JLabel</tspan><tspan x="392" dy="15">-lblPrimerApellido: JLabel</tspan><tspan x="392" dy="15">-lblSegundoApellido: JLabel</tspan><tspan x="392" dy="15">-lblUsername: JLabel</tspan><tspan x="392" dy="15">-lblPassword: JLabel</tspan><tspan x="392" dy="15">-lblRol: JLabel</tspan><tspan x="392" dy="15">-lblResultadoPrimerNombre: JLabel</tspan><tspan x="392" dy="15">-lblResultadoSegundoNombre: JLabel</tspan><tspan x="392" dy="15">-lblResultadoPrimerApellido: JLabel</tspan><tspan x="392" dy="15">-lblResultadoSegundoApellido: JLabel</tspan><tspan x="392" dy="15">-lblResultadoUsername: JLabel</tspan><tspan x="392" dy="15">-lblResultadoPassword: JLabel</tspan><tspan x="392" dy="15">-lblResultadoRol: JLabel</tspan><tspan x="392" dy="15">-btnActualizar: JButton</tspan><tspan x="392" dy="15">-btnEliminar: JButton</tspan><tspan x="392" dy="15">-btnRegresar: JButton</tspan><tspan x="392" dy="15">-buscarUsuario: BuscarUsuario</tspan><tspan x="392" dy="15">-actualizarUsuario: ActualizarUsuario</tspan></text>
<text class="a" x="392" y="2149.5"><tspan x="392">+InfoUsuario()</tspan><tspan x="392" dy="15">-llamarMetodos()</tspan><tspan x="392" dy="15">-crearEtiquetas()</tspan><tspan x="392" dy="15">-crearBotones()</tspan></text>
</g>

<g id="InfoVenta">
<rect class="sh" x="1177" y="1801" width="217" height="340"/>
<rect class="b" x="1170" y="1794" width="217" height="340"/>
<line class="sep" x1="1170" y1="1818" x2="1387" y2="1818"/><line class="sep" x1="1170" y1="2067" x2="1387" y2="2067"/>
<text class="t" x="1278.5" y="1811.5">InfoVenta</text>
<text class="a" x="1176" y="1832.5"><tspan x="1176">-panel: JPanel</tspan><tspan x="1176" dy="15">-lblValor: JLabel</tspan><tspan x="1176" dy="15">+lblFecha: JLabel</tspan><tspan x="1176" dy="15">-lblNombreCliente: JLabel</tspan><tspan x="1176" dy="15">-lblCorreo: JLabel</tspan><tspan x="1176" dy="15">-lblMedioPago: JLabel</tspan><tspan x="1176" dy="15">-lblResultadoValor: JLabel</tspan><tspan x="1176" dy="15">-lblResultadoFecha: JLabel</tspan><tspan x="1176" dy="15">-lblResultadoNombreCliente: JLabel</tspan><tspan x="1176" dy="15">-lblResultadoCorreo: JLabel</tspan><tspan x="1176" dy="15">-lblResultadoMedioPago: JLabel</tspan><tspan x="1176" dy="15">-btnActualizar: JButton</tspan><tspan x="1176" dy="15">-btnEliminar: JButton</tspan><tspan x="1176" dy="15">-btnRegresar: JButton</tspan><tspan x="1176" dy="15">-verVenta: VerVenta</tspan><tspan x="1176" dy="15">-actualizarVenta: ActualizarVenta</tspan></text>
<text class="a" x="1176" y="2081.5"><tspan x="1176">+InfoVenta()</tspan><tspan x="1176" dy="15">-llamarMetodos()</tspan><tspan x="1176" dy="15">-crearEtiquetas()</tspan><tspan x="1176" dy="15">-crearBotones()</tspan></text>
</g>

<g id="ActualizarVenta">
<rect class="sh" x="1449" y="1801" width="181" height="340"/>
<rect class="b" x="1442" y="1794" width="181" height="340"/>
<line class="sep" x1="1442" y1="1818" x2="1623" y2="1818"/><line class="sep" x1="1442" y1="2037" x2="1623" y2="2037"/>
<text class="t" x="1532.5" y="1811.5">ActualizarVenta</text>
<text class="a" x="1448" y="1832.5"><tspan x="1448">-panel; JPanel</tspan><tspan x="1448" dy="15">-lblValorVenta: JLabel</tspan><tspan x="1448" dy="15">-lblFechaVenta: JLabel</tspan><tspan x="1448" dy="15">-lblNombreCliente: JLabel</tspan><tspan x="1448" dy="15">-lblCorreoCliente: JLabel</tspan><tspan x="1448" dy="15">-lblMedioPago: JLabel</tspan><tspan x="1448" dy="15">-txtValorVenta: JTextField</tspan><tspan x="1448" dy="15">-txtFechaVenta: JTextField</tspan><tspan x="1448" dy="15">-txtNombreCliente: JTextField</tspan><tspan x="1448" dy="15">-txtCorreoCliente: JTextField</tspan><tspan x="1448" dy="15">-comMedioPago: JComboBox</tspan><tspan x="1448" dy="15">-btnActualizar: JButton</tspan><tspan x="1448" dy="15">-btnRegresar: JButton</tspan><tspan x="1448" dy="15">-infoVenta: InfoVenta</tspan></text>
<text class="a" x="1448" y="2051.5"><tspan x="1448">+ActualizarVenta()</tspan><tspan x="1448" dy="15">-llamarMetodos()</tspan><tspan x="1448" dy="15">-crearEtiquetas()</tspan><tspan x="1448" dy="15">-crearCampos()</tspan><tspan x="1448" dy="15">-crearComboBox()</tspan><tspan x="1448" dy="15">-crearBotones()</tspan></text>
</g>
</svg>
